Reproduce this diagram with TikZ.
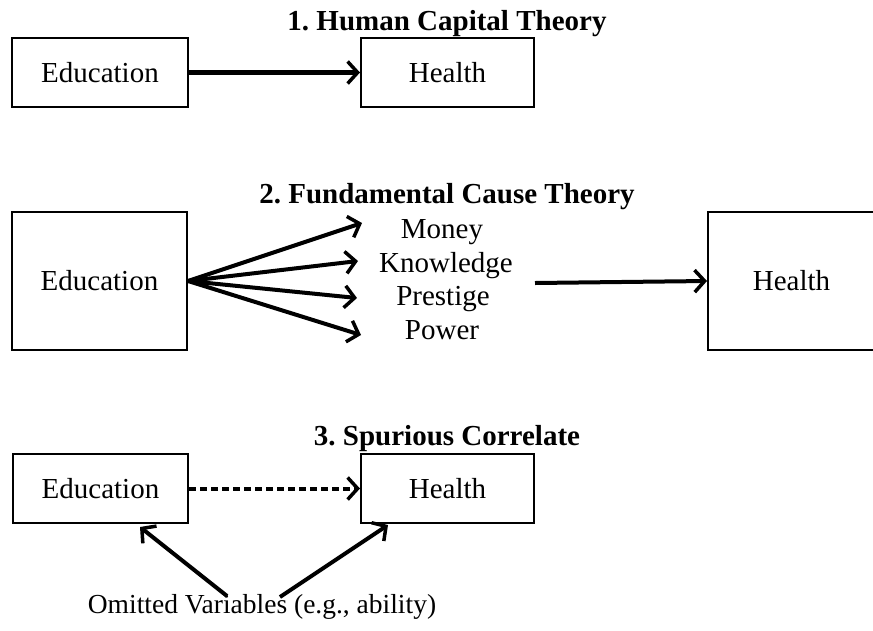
\documentclass[tikz,border=0pt]{standalone}
\usepackage{fontspec}
\setmainfont{Liberation Serif}
\usetikzlibrary{arrows.meta}
\begin{document}
\frenchspacing
\begin{tikzpicture}[x=1pt,y=-1pt,
  box/.style={draw,line width=2pt,inner sep=0pt,font=\fontsize{29}{33}\selectfont},
  lbl/.style={inner sep=0pt,font=\fontsize{29}{33}\selectfont},
  ttl/.style={inner sep=0pt,anchor=base,font=\fontsize{29}{33}\selectfont\bfseries},
  arr/.style={line width=4pt,-{Straight Barb[length=10pt,width=22pt,line width=3.5pt]}},
  ]
\useasboundingbox (0,0) rectangle (873,630);
% Section 1
\node[ttl] (t1) at (447,30) {1. Human Capital Theory};
\node[box,minimum width=176pt,minimum height=69pt] (e1) at (100,72.5) {Education};
\node[box,minimum width=173pt,minimum height=69pt] (h1) at (447.5,72.5) {Health};
\draw[arr,line width=5pt] (e1) -- (h1);
% Section 2
\node[ttl] (t2) at (447,203) {2. Fundamental Cause Theory};
\node[box,minimum width=175pt,minimum height=138pt] (e2) at (99.5,281) {Education};
\node[box,minimum width=167pt,minimum height=138pt] (h2) at (791.5,281) {Health};
\node[lbl,anchor=base] (m) at (442,238) {Money};
\node[lbl,anchor=base] (k) at (446,272) {Knowledge};
\node[lbl,anchor=base] (p) at (443,305) {Prestige};
\node[lbl,anchor=base] (w) at (442,339) {Power};
\coordinate (mt) at (362,223);
\coordinate (kt) at (358,261);
\coordinate (pt) at (357,298);
\coordinate (wt) at (361,335);
\draw[arr] (e2.east) -- (mt);
\draw[arr] (e2.east) -- (kt);
\draw[arr] (e2.east) -- (pt);
\draw[arr] (e2.east) -- (wt);
\coordinate (ms) at (535,283);
\draw[arr] (ms) -- (h2.west);
% Section 3
\node[ttl] (t3) at (447,445) {3. Spurious Correlate};
\node[box,minimum width=175pt,minimum height=69pt] (e3) at (100.5,488.5) {Education};
\node[box,minimum width=173pt,minimum height=69pt] (h3) at (447.5,488.5) {Health};
\draw[arr,dash pattern=on 7pt off 4pt] (e3) -- (h3);
\node[lbl,font=\fontsize{27.5}{31}\selectfont] (o) at (262,607) {Omitted Variables (e.g., ability)};
\coordinate (o1) at (227,596);
\coordinate (o2) at (280,597);
\coordinate (et) at (140,527);
\coordinate (ht) at (388,525);
\draw[arr] (o1) -- (et);
\draw[arr] (o2) -- (ht);
\end{tikzpicture}
\end{document}
